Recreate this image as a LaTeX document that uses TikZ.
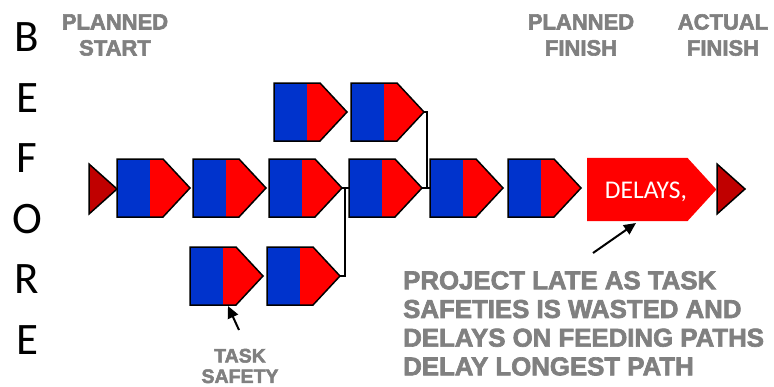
\documentclass[tikz,border=0pt]{standalone}
\usepackage{fontspec}
\setmainfont{Liberation Sans}[BoldFeatures={FakeBold=2.6}]
\newfontfamily\calibri{Carlito}
\usetikzlibrary{calc,arrows.meta}
\definecolor{taskblue}{RGB}{0,51,204}
\definecolor{taskred}{RGB}{255,0,0}
\definecolor{milestone}{RGB}{192,0,0}
\definecolor{labelgray}{RGB}{128,128,128}

\begin{document}
\begin{tikzpicture}[x=1pt,y=-1pt,
  slot/.style={rectangle, inner sep=0pt, outer sep=0pt, minimum width=73pt, minimum height=58pt, anchor=west},
  mile/.style={rectangle, inner sep=0pt, outer sep=0pt, minimum width=28pt, minimum height=50pt, anchor=west},
  outline/.style={draw=black, line width=1.5pt, line join=miter},
  link/.style={draw=black, line width=1.5pt},
  pointer/.style={draw=black, line width=2pt, -{Triangle[length=12pt,width=11pt]}},
  caption/.style={font=\bfseries\fontsize{22}{26}\selectfont, text=labelgray, align=center, inner sep=0pt},
  letter/.style={font=\calibri\fontsize{45}{45}\selectfont, inner sep=0pt}]

\useasboundingbox (0,0) rectangle (774,386);

% vertical caption
\foreach \ch [count=\i from 0] in {B,E,F,O,R,E}
  \node[letter] (L\i) at (27,{37+60.6*\i}) {\ch};

% task boxes: main chain, feeding chain above, feeding chain below
\node[slot] (t1) at (117,188) {};
\node[slot] (t2) at (193,188) {};
\node[slot] (t3) at (269,188) {};
\node[slot] (t4) at (349,188) {};
\node[slot] (t5) at (430,188) {};
\node[slot] (t6) at (508,188) {};
\node[slot] (a1) at (274,112) {};
\node[slot] (a2) at (351,112) {};
\node[slot] (b1) at (190,276) {};
\node[slot] (b2) at (267,276) {};

% start and finish milestones
\node[mile] (start) at (89,189) {};
\node[mile] (finish) at (717,189) {};

% delay block
\node[rectangle, inner sep=0pt, minimum width=129pt, minimum height=63pt, anchor=west] (delay) at (587,189.5) {};

% joins of the feeding chains
\coordinate (j1) at (345,188);
\coordinate (j2) at (427,188);
\draw[link] (t3.east) -- (j1) -- (t4.west);
\draw[link] (b2.east) -| (j1);
\draw[link] (t4.east) -- (j2) -- (t5.west);
\draw[link] (a2.east) -| (j2);

% task shapes: blue work part, red safety part
\foreach \n in {t1,t2,t3,t4,t5,t6,a1,a2,b1,b2} {
  \fill[taskblue] (\n.north west) rectangle ($(\n.south west)+(33,0)$);
  \fill[taskred] ($(\n.north west)+(33,0)$) -- ($(\n.north east)+(-27,0)$) -- (\n.east)
     -- ($(\n.south east)+(-27,0)$) -- ($(\n.south west)+(33,0)$) -- cycle;
  \draw[outline] (\n.north west) -- ($(\n.north east)+(-27,0)$) -- (\n.east)
     -- ($(\n.south east)+(-27,0)$) -- (\n.south west) -- cycle;
}

\foreach \n in {start,finish}
  \draw[outline, fill=milestone] (\n.north west) -- (\n.east) -- (\n.south west) -- cycle;

\fill[taskred] (delay.north west) -- ($(delay.north east)+(-29,0)$) -- (delay.east)
   -- ($(delay.south east)+(-29,0)$) -- (delay.south west) -- cycle;
\node[font=\calibri\fontsize{25.5}{26}\selectfont, text=white, inner sep=0pt] (dtxt) at (646,192) {DELAYS,};

% headings
\node[caption] (pstart) at (115,35) {PLANNED\\START};
\node[caption] (pfinish) at (581,35) {PLANNED\\FINISH};
\node[caption] (afinish) at (723,35) {ACTUAL\\FINISH};

% notes and pointers
\node[caption, font=\bfseries\fontsize{19.5}{20.5}\selectfont] (safety) at (240,366) {TASK\\SAFETY};
\node[caption, align=left, anchor=north west, font=\bfseries\fontsize{25.8}{28.7}\selectfont] (late) at (403,271)
  {PROJECT LATE AS TASK\\SAFETIES IS WASTED AND\\DELAYS ON FEEDING PATHS\\DELAY LONGEST PATH};

\coordinate (sfrom) at (239,330);
\coordinate (sto) at (228,306);
\draw[pointer] (sfrom) -- (sto);
\coordinate (dfrom) at (593,253);
\coordinate (dto) at (636,223);
\draw[pointer] (dfrom) -- (dto);
\end{tikzpicture}
\end{document}
